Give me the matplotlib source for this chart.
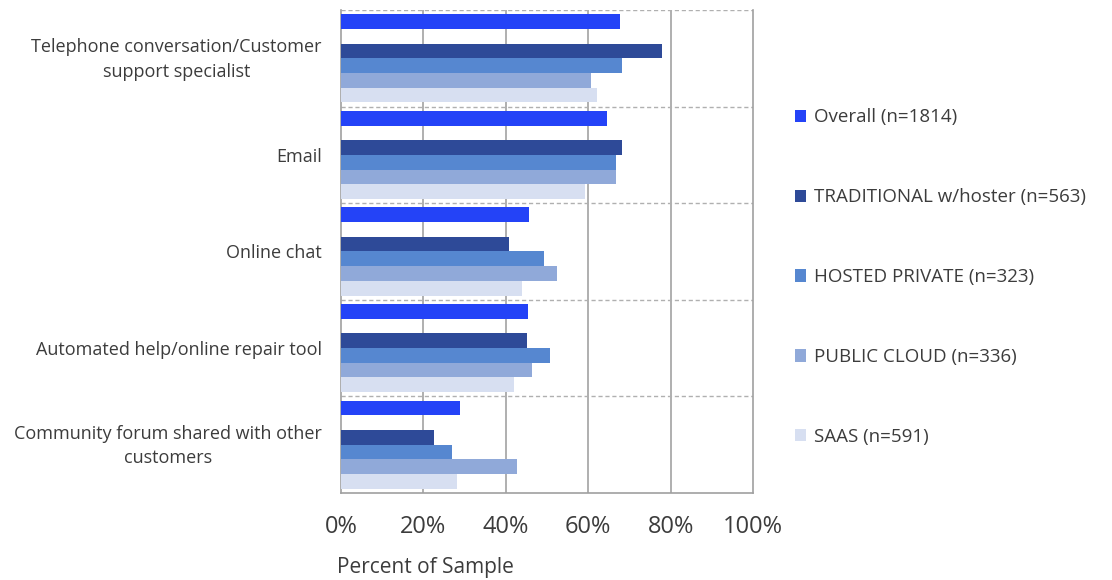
import matplotlib.pyplot as plt
from matplotlib.patches import Patch
from matplotlib.transforms import ScaledTranslation
import numpy as np

plt.rcParams['font.family'] = ['Open Sans', 'DejaVu Sans']

categories = ["Telephone conversation/Customer\nsupport specialist",
              "Email",
              "Online chat",
              "Automated help/online repair tool",
              "Community forum shared with other\ncustomers"]

series = ["Overall (n=1814)",
          "TRADITIONAL w/hoster (n=563)",
          "HOSTED PRIVATE (n=323)",
          "PUBLIC CLOUD (n=336)",
          "SAAS (n=591)"]

overall = [67.8, 64.6, 45.5, 45.3, 28.9]
traditional = [77.8, 68.1, 40.7, 45.2, 22.6]
hosted_private = [68.3, 66.7, 49.3, 50.7, 26.9]
public_cloud = [60.7, 66.7, 52.4, 46.4, 42.6]
saas = [62.1, 59.1, 43.9, 41.9, 28.1]

values = [overall, traditional, hosted_private, public_cloud, saas]
colors = ["#2443F7", "#2E4A98", "#5687D0", "#90A9D9", "#D7DFF1"]
text_color = "#3c3c3c"

# six slots per group, the second one left empty
slot = 0.152
pad = (1 - 6 * slot) / 2
slots = [0, 2, 3, 4, 5]

fig = plt.figure(figsize=(11.12, 5.8), dpi=100)
ax = fig.add_axes([0.3067, 0.15, 0.3705, 0.8328])

group = np.arange(len(categories))
for vals, col, k, name in zip(values, colors, slots, series):
    y = group + pad + slot * (k + 0.5)
    ax.barh(y, vals, height=slot, color=col, label=name, zorder=3)

ax.set_xlim(0, 100)
ax.set_ylim(len(categories), 0)

# gridlines
for x in [20, 40, 60, 80]:
    ax.axvline(x, color="#9a9a9a", lw=1.1, zorder=1)
for g in range(len(categories)):
    ax.axhline(g, color="#b0b0b0", lw=1.0, ls=(0, (3, 2)), zorder=2)

for side in ["left", "right", "bottom"]:
    ax.spines[side].set_color("#a0a0a0")
    ax.spines[side].set_linewidth(1.2)
ax.spines["top"].set_visible(False)

ax.set_xticks([0, 20, 40, 60, 80, 100])
ax.set_xticklabels(["0%", "20%", "40%", "60%", "80%", "100%"])
ax.set_yticks(group + 0.5)
ax.set_yticklabels(categories, multialignment="center", linespacing=1.45)
ax.tick_params(axis="x", length=0, pad=16, labelsize=17, labelcolor=text_color)
ax.tick_params(axis="y", length=0, pad=14, labelsize=13, labelcolor=text_color)

# lift the two-line labels a little
for lab in ax.get_yticklabels():
    if "\n" in lab.get_text():
        lab.set_transform(lab.get_transform() +
                          ScaledTranslation(0, 4 / 100, fig.dpi_scale_trans))

fig.text(0.303, 0.004, "Percent of Sample", fontsize=15, color=text_color,
         ha="left", va="bottom")

handles = [Patch(facecolor=c, edgecolor="none") for c in colors]
fig.legend(handles, series, loc="upper left", bbox_to_anchor=(0.708, 0.826),
           frameon=False, fontsize=13.5, labelcolor=text_color,
           handlelength=0.62, handleheight=0.62, handletextpad=0.4,
           labelspacing=3.3, borderaxespad=0)

fig.savefig("out.png", dpi=100)
